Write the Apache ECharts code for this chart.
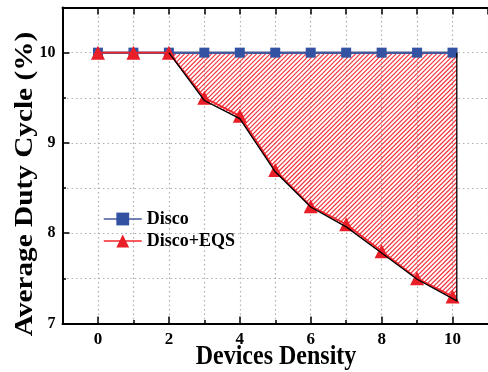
<!DOCTYPE html>
<html><head><meta charset="utf-8">
<script src="https://cdn.jsdelivr.net/npm/echarts@6/dist/echarts.min.js"></script>
<style>html,body{margin:0;padding:0;background:#fff}#c{width:488px;height:372px}</style>
</head><body><div id="c"></div>
<script>
const densities = [0,1,2,3,4,5,6,7,8,9,10];
const disco = [10,10,10,10,10,10,10,10,10,10,10];
const discoEqs = [10,10,10,9.5,9.3,8.7,8.3,8.1,7.8,7.5,7.3];
const hatchX = [2,3,4,5,6,7,8,9,10.12];
const hatchLow = [10,9.47,9.27,8.68,8.29,8.07,7.78,7.49,7.25];
const hatchTop = 10;
const xMajor = [0,2,4,6,8,10];
const xMinor = [1,3,5,7,9];
const yMajor = [7,8,9,10];
const yMinor = [7.5,8.5,9.5];
const seriesNames = ['Disco','Disco+EQS'];
const xTitle = 'Devices Density';
const yTitle = 'Average Duty Cycle (%)';

const FONT = 'Liberation Serif';
const XMIN=-1, XMAX=11, YMIN=7, YMAX=10.5;
const grid = {left:62.5, top:7.5, bottom:48.5, right:-7.6};
const grey = {show:true, lineStyle:{color:'#b0b0b0', width:1.2, type:[1.5,3]}};

function hatchPolygon(toPx){
  const pts = hatchX.map((x,i)=>toPx([x, hatchLow[i]]));
  pts.push(toPx([hatchX[hatchX.length-1], hatchTop]));
  return pts;
}
function hatchLines(pts, step, color, w){
  let cmin=Infinity, cmax=-Infinity;
  pts.forEach(p=>{const c=p[0]+p[1]; cmin=Math.min(cmin,c); cmax=Math.max(cmax,c);});
  const out=[];
  const start=Math.ceil(cmin/step)*step;
  for(let c=start; c<=cmax; c+=step){
    const xs=[];
    for(let i=0;i<pts.length;i++){
      const P=pts[i], Q=pts[(i+1)%pts.length];
      const fp=P[0]+P[1]-c, fq=Q[0]+Q[1]-c;
      if((fp<0&&fq>=0)||(fp>=0&&fq<0)){
        const t=fp/(fp-fq);
        xs.push(P[0]+t*(Q[0]-P[0]));
      }
    }
    xs.sort((a,b)=>a-b);
    for(let k=0;k+1<xs.length;k+=2){
      out.push({type:'line', silent:true, z:2,
        shape:{x1:xs[k], y1:c-xs[k], x2:xs[k+1], y2:c-xs[k+1]},
        style:{stroke:color, lineWidth:w}});
    }
  }
  return out;
}

const chart = echarts.init(document.getElementById('c'), null, {renderer:'canvas'});
const option = {
  animation:false,
  backgroundColor:'#fff',
  grid: grid,
  legend: {
    data: seriesNames, orient:'vertical', left:98, top:205,
    itemWidth:38, itemHeight:16, itemGap:4,
    lineStyle:{width:1.5},
    textStyle:{fontFamily:FONT, fontWeight:'bold', fontSize:18, color:'#000', lineHeight:18}
  },
  xAxis: [
    {type:'value', min:XMIN, max:XMAX, interval:1, position:'bottom',
      axisLine:{show:true, onZero:false, lineStyle:{color:'#000', width:2}},
      axisTick:{show:true, inside:true, length:7, customValues:xMajor, lineStyle:{color:'#000', width:1.5}},
      axisLabel:{show:true, customValues:xMajor, margin:8, fontFamily:FONT, fontWeight:'bold', fontSize:17, color:'#000'},
      splitLine:{show:false}},
    {type:'value', min:XMIN, max:XMAX, interval:1, position:'bottom',
      axisLine:{show:false, onZero:false},
      axisTick:{show:true, inside:true, length:3.5, customValues:xMinor, lineStyle:{color:'#000', width:1.5}},
      axisLabel:{show:false}, splitLine:{show:false}},
    {type:'value', min:XMIN, max:XMAX, interval:1, position:'top',
      axisLine:{show:true, onZero:false, lineStyle:{color:'#000', width:2}},
      axisTick:{show:true, inside:true, length:7, lineStyle:{color:'#000', width:1.5}},
      axisLabel:{show:false}, splitLine:grey}
  ],
  yAxis: [
    {type:'value', min:YMIN, max:YMAX, interval:0.5, position:'left',
      axisLine:{show:true, onZero:false, lineStyle:{color:'#000', width:2}},
      axisTick:{show:true, inside:true, length:7, customValues:yMajor, lineStyle:{color:'#000', width:1.5}},
      axisLabel:{show:true, customValues:yMajor, margin:7, fontFamily:FONT, fontWeight:'bold', fontSize:16, color:'#000'},
      splitLine:{show:false}},
    {type:'value', min:YMIN, max:YMAX, interval:0.5, position:'left',
      axisLine:{show:false, onZero:false},
      axisTick:{show:true, inside:true, length:3.5, customValues:yMinor, lineStyle:{color:'#000', width:1.5}},
      axisLabel:{show:false}, splitLine:{show:false}},
    {type:'value', min:YMIN, max:YMAX, interval:0.5, position:'right',
      axisLine:{show:false, onZero:false}, axisTick:{show:false},
      axisLabel:{show:false}, splitLine:grey}
  ],
  graphic: [
    {type:'text', x:25, y:184, rotation:Math.PI/2, scaleX:1.22, scaleY:1.05,
      style:{text:yTitle, font:'bold 24px "Liberation Serif"', fill:'#000', align:'center', verticalAlign:'middle'}},
    {type:'text', x:276, y:357, scaleX:1, scaleY:1.12,
      style:{text:xTitle, font:'bold 24px "Liberation Serif"', fill:'#000', align:'center', verticalAlign:'middle'}}
  ],
  series: [
    {name:seriesNames[0], type:'line', xAxisIndex:0, yAxisIndex:0, z:3,
      data: densities.map((x,i)=>[x, disco[i]]),
      symbol:'rect', symbolSize:10,
      itemStyle:{color:'#3452a2'}, lineStyle:{color:'#44589a', width:2.5}},
    {name:seriesNames[1], type:'line', xAxisIndex:0, yAxisIndex:0, z:4,
      data: densities.map((x,i)=>[x, discoEqs[i]]),
      symbol:'triangle', symbolSize:14,
      itemStyle:{color:'#e91e26'}, lineStyle:{color:'#f2242c', width:1.8}},
    {type:'custom', xAxisIndex:0, yAxisIndex:0, z:5, silent:true,
      data:[[hatchX[0], hatchTop]],
      renderItem:function(params, api){
        return {type:'polyline', shape:{points:hatchPolygon(p=>api.coord(p))},
          style:{fill:null, stroke:'#000', lineWidth:1.3}};
      }}
  ]
};
chart.setOption(option);
const poly = hatchPolygon(p=>chart.convertToPixel({xAxisIndex:0, yAxisIndex:0}, p));
chart.setOption({graphic: option.graphic.concat([
  {type:'group', silent:true, z:2, children: hatchLines(poly, 4.5, '#f2343e', 1.2)}
])});
</script></body></html>
